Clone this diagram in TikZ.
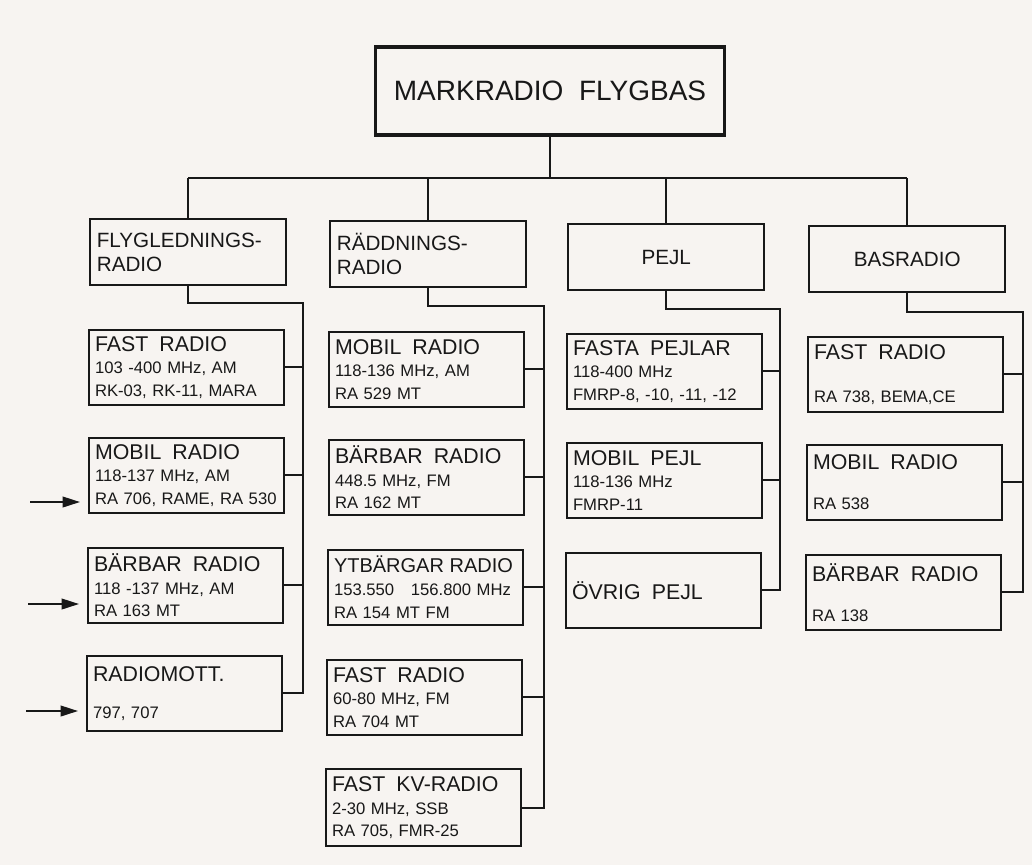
\documentclass[tikz,border=0pt]{standalone}
\usepackage{fontspec}
\setmainfont{Liberation Sans}
\usetikzlibrary{arrows.meta}
\definecolor{papper}{RGB}{247,244,241}
\definecolor{tusch}{RGB}{24,24,24}
\newcommand{\titelfont}{\fontsize{21}{25}\selectfont}
\newcommand{\grenfont}{\fontsize{15.5}{18}\selectfont}
\newcommand{\namnfont}{\fontsize{16}{17}\selectfont}
\newcommand{\smalnamnfont}{\fontsize{15}{17}\selectfont}
\newcommand{\datafont}{\fontsize{12.5}{17}\selectfont}

\begin{document}
\begin{tikzpicture}[x = 0.75pt, y = -0.75pt,
  huvud/.style = {draw = tusch, line width = 2.4pt, minimum width = 262pt, minimum height = 66pt, font = \titelfont, text = tusch},
  gren/.style = {draw = tusch, line width = 1.8pt, anchor = north west, minimum height = 49.5pt, text width = 137pt, inner xsep = 5pt, align = left, font = \grenfont, text = tusch},
  enhet/.style = {draw = tusch, line width = 1.5pt, anchor = north west, minimum height = 56pt, text width = 137pt, inner xsep = 4.5pt, inner ysep = 3pt, align = left, font = \datafont, text = tusch},
  ledning/.style = {draw = tusch, line width = 1.3pt},
  pil/.style = {ledning, -{Triangle[length = 13pt, width = 8pt]}, shorten > = 6pt}]
\fill[papper] (0, 0) rectangle (1032, 865);
\useasboundingbox (0, 0) rectangle (1032, 865);

\node[huvud] (mark) at (550, 91) {MARKRADIO\ \ FLYGBAS};

\node[gren] (flyg) at (89, 218) {FLYGLEDNINGS-\\RADIO};
\node[gren] (radd) at (329, 220) {RÄDDNINGS-\\RADIO};
\node[gren, align = center] (pejl) at (567, 223) {PEJL};
\node[gren, align = center] (bas) at (808, 225) {BASRADIO};

\coordinate (bus) at (550, 178);
\draw[ledning] (mark.south) -- (mark.south |- bus);
\draw[ledning] (flyg.north |- bus) -- (bas.north |- bus);
\foreach \g in {flyg, radd, pejl, bas}
  \draw[ledning] (\g.north |- bus) -- (\g.north);

\node[enhet] (fast1) at (88, 329) {{\namnfont FAST\ \ RADIO}\\103 -400 MHz, AM\\RK-03, RK-11, MARA};
\node[enhet] (mobil1) at (88, 437) {{\namnfont MOBIL\ \ RADIO}\\118-137 MHz, AM\\RA 706, RAME, RA 530};
\node[enhet] (barbar1) at (87, 547) {{\namnfont BÄRBAR\ \ RADIO}\\118 -137 MHz, AM\\RA 163 MT};
\node[enhet] (mott1) at (86, 655) {{\namnfont RADIOMOTT.}\\[11pt]797, 707};

\coordinate (s1) at (303, 303);
\draw[ledning] (flyg.south) |- (s1) -- (s1 |- mott1.east) -- (mott1.east);
\foreach \b in {fast1, mobil1, barbar1}
  \draw[ledning] (\b.east) -- (\b.east -| s1);

\coordinate (p1) at (30, 502);
\coordinate (p2) at (28, 604);
\coordinate (p3) at (26, 711);
\draw[pil] (p1) -- (p1 -| mobil1.west);
\draw[pil] (p2) -- (p2 -| barbar1.west);
\draw[pil] (p3) -- (p3 -| mott1.west);

\node[enhet] (mobil2) at (328, 331) {{\namnfont MOBIL\ \ RADIO}\\118-136 MHz, AM\\RA 529 MT};
\node[enhet] (barbar2) at (328, 439) {{\namnfont BÄRBAR\ \ RADIO}\\448.5 MHz, FM\\RA 162 MT};
\node[enhet] (yt2) at (327, 549) {\mbox{\smalnamnfont YTBÄRGAR RADIO}\\153.550\quad 156.800 MHz\\RA 154 MT FM};
\node[enhet] (fast2) at (326, 659) {{\namnfont FAST\ \ RADIO}\\60-80 MHz, FM\\RA 704 MT};
\node[enhet, minimum height = 58pt] (kv2) at (325, 768) {{\namnfont FAST\ \ KV-RADIO}\\2-30 MHz, SSB\\RA 705, FMR-25};

\coordinate (s2) at (544, 306);
\draw[ledning] (radd.south) |- (s2) -- (s2 |- kv2.east) -- (kv2.east);
\foreach \b in {mobil2, barbar2, yt2, fast2}
  \draw[ledning] (\b.east) -- (\b.east -| s2);

\node[enhet] (fasta3) at (566, 333) {{\namnfont FASTA\ \ PEJLAR}\\118-400 MHz\\FMRP-8, -10, -11, -12};
\node[enhet] (mobil3) at (566, 442) {{\namnfont MOBIL\ \ PEJL}\\118-136 MHz\\FMRP-11};
\node[enhet] (ovrig3) at (565, 552) {{\namnfont ÖVRIG\ \ PEJL}};

\coordinate (s3) at (780, 309);
\draw[ledning] (pejl.south) |- (s3) -- (s3 |- ovrig3.east) -- (ovrig3.east);
\foreach \b in {fasta3, mobil3}
  \draw[ledning] (\b.east) -- (\b.east -| s3);

\node[enhet] (fast4) at (807, 336) {{\namnfont FAST\ \ RADIO}\\[15pt]RA 738, BEMA,CE};
\node[enhet] (mobil4) at (806, 444) {{\namnfont MOBIL\ \ RADIO}\\[13pt]RA 538};
\node[enhet] (barbar4) at (805, 554) {{\namnfont BÄRBAR\ \ RADIO}\\[13pt]RA 138};

\coordinate (s4) at (1023, 312);
\draw[ledning] (bas.south) |- (s4) -- (s4 |- barbar4.east) -- (barbar4.east);
\foreach \b in {fast4, mobil4}
  \draw[ledning] (\b.east) -- (\b.east -| s4);
\end{tikzpicture}
\end{document}
